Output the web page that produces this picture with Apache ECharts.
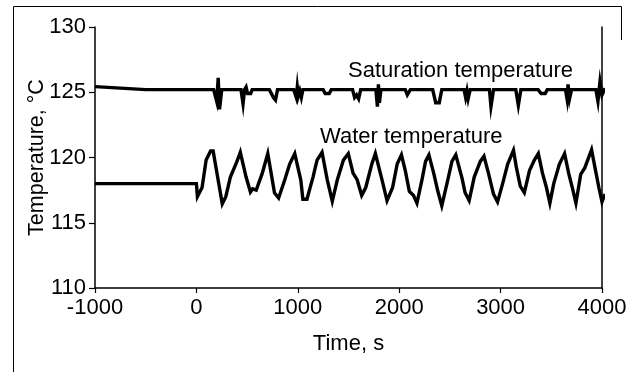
<!DOCTYPE html>
<html>
<head>
<meta charset="utf-8">
<script src="https://cdn.jsdelivr.net/npm/echarts@6/dist/echarts.min.js"></script>
<style>
  html, body { margin: 0; padding: 0; background: #fff; }
  #chart { width: 631px; height: 372px; }
</style>
</head>
<body>
<div id="chart"></div>
<script>
// ---- data ----
const waterTime = [-1000, 0, 10, 56, 96, 140, 165, 255, 290, 335, 395, 433, 490, 533, 555, 590, 650, 704, 770, 811, 870, 920, 970, 1030, 1050, 1090, 1150, 1190, 1239, 1290, 1340, 1390, 1450, 1498, 1545, 1585, 1630, 1670, 1730, 1765, 1830, 1880, 1935, 1980, 2022, 2060, 2100, 2140, 2175, 2225, 2260, 2293, 2340, 2380, 2420, 2480, 2520, 2558, 2620, 2650, 2690, 2740, 2800, 2836, 2855, 2880, 2930, 2970, 3020, 3070, 3127, 3154, 3194, 3234, 3285, 3333, 3372, 3413, 3452, 3486, 3524, 3580, 3631, 3671, 3710, 3743, 3790, 3830, 3897, 3929, 3969, 4000, 4030];
const waterTemp = [118.0, 118.0, 117.0, 117.7, 119.8, 120.5, 120.5, 116.45, 117.0, 118.5, 119.6, 120.4, 118.5, 117.35, 117.6, 117.5, 118.8, 120.3, 117.3, 116.9, 118.25, 119.5, 120.3, 118.25, 116.8, 116.8, 118.5, 119.8, 120.4, 118.3, 116.65, 118.3, 119.8, 120.3, 118.8, 118.3, 117.1, 117.7, 119.5, 120.3, 118.3, 116.7, 117.7, 119.5, 120.2, 119.0, 117.4, 117.1, 116.5, 118.3, 119.7, 120.2, 118.8, 117.45, 116.3, 118.3, 119.7, 120.2, 118.4, 117.3, 116.7, 118.5, 119.7, 120.1, 120.1, 118.8, 117.2, 116.6, 118.0, 119.5, 120.55, 119.3, 117.8, 117.3, 119.0, 119.8, 120.3, 118.8, 117.7, 116.5, 118.0, 119.5, 120.3, 118.8, 117.6, 116.5, 118.7, 119.2, 120.6, 119.3, 117.7, 116.6, 117.2];

const satTime = [-1000, -500, 170, 200, 215, 228, 250, 440, 460, 475, 490, 505, 520, 535, 550, 720, 760, 780, 800, 960, 985, 995, 1005, 1020, 1035, 1050, 1250, 1270, 1310, 1330, 1540, 1560, 1580, 1600, 1620, 1770, 1785, 1795, 1805, 1820, 2060, 2080, 2095, 2110, 2330, 2360, 2395, 2420, 2640, 2655, 2668, 2680, 2700, 2890, 2905, 2915, 2930, 3150, 3175, 3200, 3370, 3400, 3440, 3460, 3640, 3655, 3665, 3680, 3700, 3940, 3960, 3980, 4000, 4030];
const satTemp = [125.43, 125.2, 125.2, 124.3, 126.1, 123.7, 125.2, 125.2, 124.1, 125.2, 125.4, 124.9, 125.0, 124.9, 125.2, 125.2, 124.6, 124.4, 125.2, 125.2, 124.6, 125.4, 124.7, 125.1, 124.6, 125.2, 125.2, 124.9, 124.9, 125.2, 125.2, 124.6, 124.8, 124.5, 125.2, 125.2, 123.9, 125.6, 124.2, 125.2, 125.2, 124.8, 125.0, 125.2, 125.2, 124.2, 124.2, 125.2, 125.2, 124.6, 125.1, 124.5, 125.2, 125.2, 123.9, 124.4, 125.2, 125.2, 124.0, 125.2, 125.2, 124.9, 124.9, 125.2, 125.2, 124.5, 125.6, 124.5, 125.2, 125.2, 124.3, 125.8, 124.8, 125.3];

const xTicks = { min: -1000, max: 4000, interval: 1000 };
const yTicks = { min: 110, max: 130, interval: 5 };

const xTitle = 'Time, s';
const yTitle = 'Temperature, °C';
const satLabel = 'Saturation temperature';
const waterLabel = 'Water temperature';

// ---- build ----
const zip = (a, b) => a.map((v, i) => [v, b[i]]);
const FONT = '"Liberation Sans", Arial, sans-serif';
const plain = v => String(v);

const chart = echarts.init(document.getElementById('chart'), null, { renderer: 'canvas' });
chart.setOption({
  animation: false,
  backgroundColor: '#fff',
  grid: { left: 95, right: 29, top: 27, bottom: 84, containLabel: false },
  xAxis: {
    type: 'value',
    min: xTicks.min, max: xTicks.max, interval: xTicks.interval,
    name: xTitle, nameLocation: 'middle', nameGap: 45, nameMoveOverlap: false,
    nameTextStyle: { fontFamily: FONT, fontSize: 22, color: '#000' },
    axisLine: { show: true, onZero: false, lineStyle: { color: '#000', width: 1.5 } },
    axisTick: { show: true, inside: false, length: 5, lineStyle: { color: '#000', width: 1.2 } },
    axisLabel: { fontFamily: FONT, fontSize: 22, color: '#000', margin: 9, formatter: plain },
    splitLine: { show: false }
  },
  yAxis: [{
    type: 'value', position: 'left',
    min: yTicks.min, max: yTicks.max, interval: yTicks.interval,
    name: yTitle, nameLocation: 'middle', nameGap: 47, nameRotate: 90, nameMoveOverlap: false,
    nameTextStyle: { fontFamily: FONT, fontSize: 21.5, color: '#000' },
    axisLine: { show: true, onZero: false, lineStyle: { color: '#000', width: 1.5 } },
    axisTick: { show: true, inside: false, length: 6, lineStyle: { color: '#000', width: 1.2 } },
    axisLabel: { fontFamily: FONT, fontSize: 22, color: '#000', margin: 9, formatter: plain },
    splitLine: { show: false }
  }, {
    type: 'value', position: 'right',
    min: yTicks.min, max: yTicks.max, interval: yTicks.interval,
    axisLine: { show: true, onZero: false, lineStyle: { color: '#000', width: 1.5 } },
    axisTick: { show: false }, axisLabel: { show: false }, splitLine: { show: false }
  }],
  series: [{
    name: satLabel, type: 'line', data: zip(satTime, satTemp),
    showSymbol: false, symbol: 'none', clip: false,
    lineStyle: { color: '#000', width: 3.4, join: 'miter' }
  }, {
    name: waterLabel, type: 'line', data: zip(waterTime, waterTemp),
    showSymbol: false, symbol: 'none', clip: false,
    lineStyle: { color: '#000', width: 3.4, join: 'miter' }
  }],
  graphic: [
    { type: 'text', left: 348, top: 60, style: { text: satLabel, font: '22px ' + FONT, fill: '#000' } },
    { type: 'text', left: 320, top: 126, style: { text: waterLabel, font: '22px ' + FONT, fill: '#000' } },
    { type: 'polyline', shape: { points: [[13.5, 372], [13.5, 6.5], [621.5, 6.5], [621.5, 40]] },
      style: { stroke: '#000', lineWidth: 1, fill: null } }
  ]
});
</script>
</body>
</html>
